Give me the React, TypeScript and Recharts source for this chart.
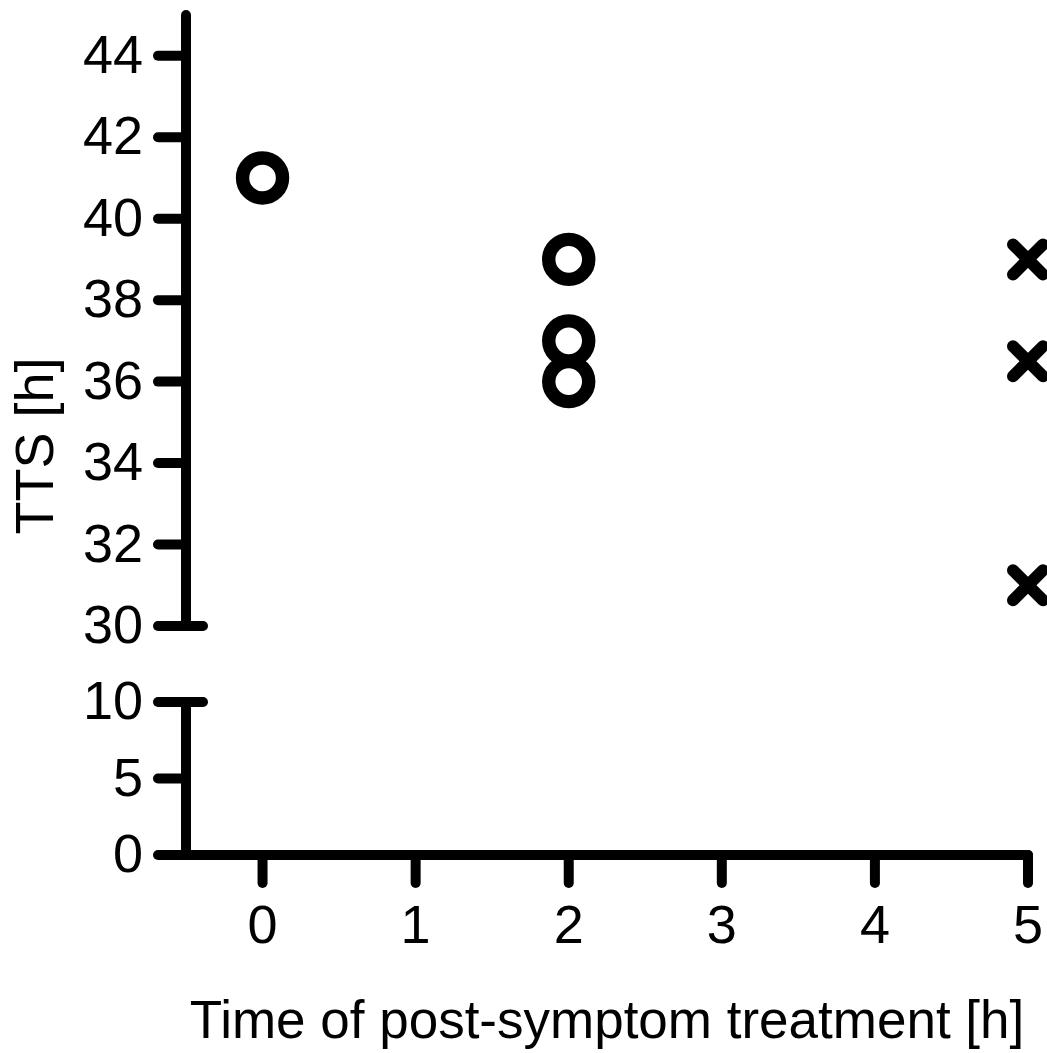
import React from 'react';
import { ScatterChart, Scatter, XAxis, YAxis, Label } from 'recharts';

// treatment time [h] vs time to symptoms [h]
const earlyTimes = [0, 2, 2, 2];
const earlyTTS = [41, 39, 37, 36];
const lateTimes = [5, 5, 5];
const lateTTS = [39, 36.5, 31];

const xTicks = [0, 1, 2, 3, 4, 5];
const upperTicks = [30, 32, 34, 36, 38, 40, 42, 44];
const lowerTicks = [0, 5, 10];
const breakTicks = [30, 10];

const earlyData = earlyTimes.map((t, i) => ({ x: t, y: earlyTTS[i] }));
const lateData = lateTimes.map((t, i) => ({ x: t, y: lateTTS[i] }));

const FONT = '"Liberation Sans", Arial, Helvetica, sans-serif';
const AXIS_X = 186;
const LW = 10;

const axisLineStyle = { stroke: '#000', strokeWidth: LW, strokeLinecap: 'round' as const };

const YTick = (props: any) => {
  const { y, payload } = props;
  const isBreak = breakTicks.includes(payload.value);
  return (
    <g>
      <line
        x1={AXIS_X - 28}
        x2={isBreak ? AXIS_X + 17 : AXIS_X}
        y1={y}
        y2={y}
        stroke="#000"
        strokeWidth={LW}
        strokeLinecap="round"
      />
      <text x={143} y={y + 17} textAnchor="end" fontFamily={FONT} fontSize={54} fill="#000">
        {payload.value}
      </text>
    </g>
  );
};

const XTick = (props: any) => {
  const { x, payload } = props;
  const axisY = 855;
  return (
    <g>
      <line x1={x} x2={x} y1={axisY} y2={axisY + 28} stroke="#000" strokeWidth={LW} strokeLinecap="round" />
      <text x={x} y={axisY + 88} textAnchor="middle" fontFamily={FONT} fontSize={54} fill="#000">
        {payload.value}
      </text>
    </g>
  );
};

const OpenCircle = (props: any) => {
  const { cx, cy } = props;
  return <circle cx={cx} cy={cy} r={20} fill="none" stroke="#000" strokeWidth={13.4} />;
};

const Cross = (props: any) => {
  const { cx, cy } = props;
  const s = 15;
  return (
    <g stroke="#000" strokeWidth={12} strokeLinecap="round">
      <line x1={cx - s} y1={cy - s} x2={cx + s} y2={cy + s} />
      <line x1={cx - s} y1={cy + s} x2={cx + s} y2={cy - s} />
    </g>
  );
};

const Hidden = () => <g />;

export default function App() {
  return (
    <div style={{ position: 'absolute', left: 0, top: 0, width: 1047, height: 1053, background: '#fff', overflow: 'hidden' }}>
      {/* upper segment 30-45 */}
      <div style={{ position: 'absolute', left: 0, top: 0 }}>
        <ScatterChart width={1047} height={670} margin={{ top: 15, right: 19, bottom: 44, left: 0 }}>
          <XAxis type="number" dataKey="x" domain={[-0.5, 5]} ticks={xTicks} hide />
          <YAxis
            type="number"
            dataKey="y"
            domain={[30, 45]}
            ticks={upperTicks}
            width={AXIS_X}
            axisLine={axisLineStyle}
            tickLine={false}
            tick={<YTick />}
            interval={0}
          >
            <Label
              content={() => (
                <text
                  x={53}
                  y={446}
                  transform="rotate(-90 53 446)"
                  textAnchor="middle"
                  fontFamily={FONT}
                  fontSize={54}
                  fill="#000"
                >
                  TTS [h]
                </text>
              )}
            />
          </YAxis>
          <Scatter data={earlyData} shape={<OpenCircle />} isAnimationActive={false} />
          <Scatter data={lateData} shape={<Cross />} isAnimationActive={false} />
        </ScatterChart>
      </div>
      {/* lower segment 0-10 with x axis */}
      <div style={{ position: 'absolute', left: 0, top: 0 }}>
        <ScatterChart width={1047} height={1053} margin={{ top: 702, right: 19, bottom: 53, left: 0 }}>
          <XAxis
            type="number"
            dataKey="x"
            domain={[-0.5, 5]}
            ticks={xTicks}
            height={145}
            axisLine={axisLineStyle}
            tickLine={false}
            tick={<XTick />}
            interval={0}
          >
            <Label
              value="Time of post-symptom treatment [h]"
              position="bottom"
              offset={0}
              style={{ fontFamily: FONT, fontSize: 53, fill: '#000' }}
            />
          </XAxis>
          <YAxis
            type="number"
            dataKey="y"
            domain={[0, 10]}
            ticks={lowerTicks}
            width={AXIS_X}
            axisLine={axisLineStyle}
            tickLine={false}
            tick={<YTick />}
            interval={0}
            allowDataOverflow
          />
          <Scatter data={[...earlyData, ...lateData]} shape={<Hidden />} isAnimationActive={false} />
        </ScatterChart>
      </div>
    </div>
  );
}
